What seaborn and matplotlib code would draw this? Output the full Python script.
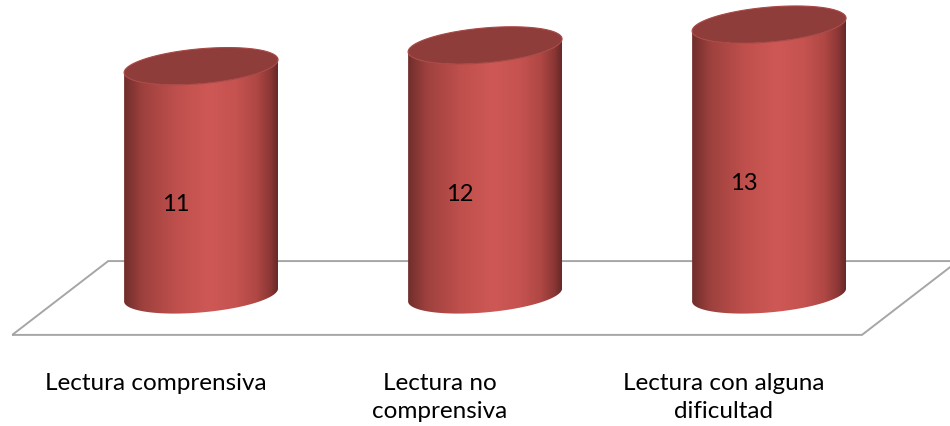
import numpy as np
import pandas as pd
import seaborn as sns
import matplotlib.pyplot as plt
from matplotlib.patches import Polygon

categories = ["Lectura comprensiva", "Lectura no\ncomprensiva", "Lectura con alguna\ndificultad"]
values = [11, 12, 13]

# horizontal shading across a cylinder (left edge -> right edge)
shade_pos = [0.0, 0.12, 0.35, 0.55, 0.72, 0.86, 0.95, 1.0]
shade_rgb = [(112, 46, 44), (158, 65, 62), (192, 80, 77), (206, 88, 85),
             (198, 83, 80), (176, 72, 69), (140, 55, 53), (104, 40, 40)]
top_color = "#8f3d3b"

sns.set_theme(style="white")
plt.rcParams['font.family'] = ['Lato', 'DejaVu Sans']

fig = plt.figure(figsize=(9.5, 4.27), dpi=100)
ax = fig.add_axes([0, 0, 1, 1])

df = pd.DataFrame({"cat": categories, "val": values})
sns.barplot(data=df, x="cat", y="val", width=0.542, color="#c0504d", ax=ax)
bars = list(ax.patches)

ax.axis("off")

# floor of the 3d plot
floor = Polygon([(-0.665, -1.92), (2.327, -1.92), (2.665, 1.63), (-0.327, 1.63)],
                closed=True, fill=False, edgecolor="#a6a6a6", lw=1.4, zorder=1)
ax.add_patch(floor)

# build the shading strip
xs = np.linspace(0, 1, 256)
strip = np.stack([np.interp(xs, shade_pos, [c[k] for c in shade_rgb]) for k in range(3)], axis=-1)
strip = (strip / 255.0)[np.newaxis, :, :]

t_low = np.linspace(np.pi, 2 * np.pi, 120)
t_all = np.linspace(0, 2 * np.pi, 240)
ry = 0.84
tilt = 0.31


def ellipse_pts(cx, cy, rx, t):
    return np.column_stack([cx + rx * np.cos(t), cy + ry * np.sin(t) + tilt * np.cos(t)])


for i, bar in enumerate(bars):
    x0 = bar.get_x()
    w = bar.get_width()
    h = bar.get_height()
    cx = x0 + w / 2
    rx = w / 2
    bar.set_visible(False)

    bottom = ellipse_pts(cx, 0, rx, t_low)
    top = ellipse_pts(cx, h, rx, t_low[::-1])
    body = Polygon(np.vstack([bottom, top]), closed=True, facecolor="none",
                   edgecolor="none", zorder=2)
    ax.add_patch(body)
    img = ax.imshow(strip, extent=[x0, x0 + w, -2, h + 2], aspect="auto",
                    interpolation="bilinear", zorder=2)
    img.set_clip_path(body)

    cap = Polygon(ellipse_pts(cx, h, rx, t_all), closed=True, facecolor=top_color,
                  edgecolor="#a84946", lw=0.8, zorder=3)
    ax.add_patch(cap)

    ax.text(cx - 0.09, h / 2 - 1.1, str(values[i]), ha="center", va="center",
            fontsize=17, color="black", zorder=4)
    ax.text(cx - 0.16, -3.72, categories[i], ha="center", va="top",
            fontsize=17.5, color="black", linespacing=1.38)

ax.set_xlim(-0.708, 2.637)
ax.set_ylim(-6.30, 14.23)
fig.savefig("out.png", dpi=100)
